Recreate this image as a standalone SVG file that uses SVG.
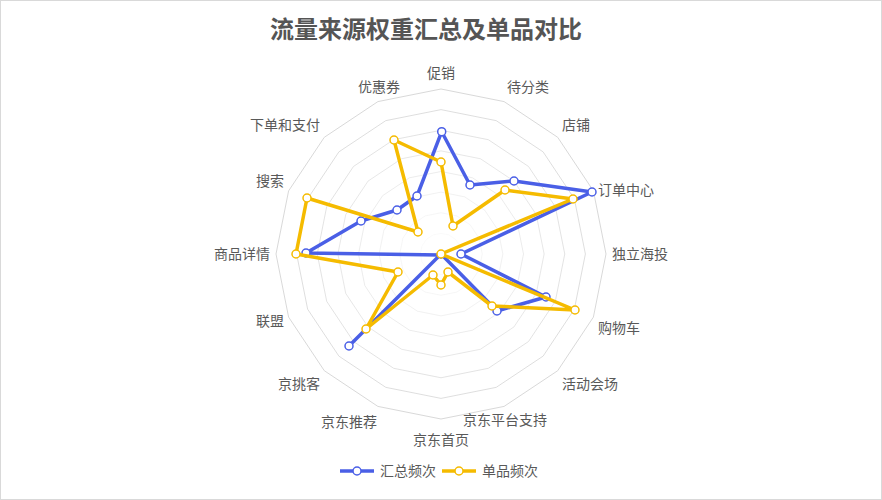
<svg xmlns="http://www.w3.org/2000/svg" width="882" height="500" viewBox="0 0 882 500">
<style>
text{font-family:"Noto Sans CJK SC","Noto Sans",sans-serif;fill:#595959;font-size:14px}
.g{fill:none;stroke:#d9d9d9;stroke-width:1}
.b{fill:none;stroke:#4a5fe6;stroke-width:3.5;stroke-linejoin:round}
.y{fill:none;stroke:#f5bb00;stroke-width:3.5;stroke-linejoin:round}
.bm{fill:#fff;stroke:#4a5fe6;stroke-width:1.5}
.ym{fill:#fff;stroke:#f5bb00;stroke-width:1.5}
</style>
<rect x="0.5" y="0.5" width="881" height="499" fill="#fff" stroke="#d9d9d9"/>
<text x="426" y="38" text-anchor="middle" style="font-size:24px;font-weight:bold;fill:#555">流量来源权重汇总及单品对比</text>
<g id="grid">
<polygon class="g" points="441,89 504.1,101.6 557.7,137.3 593.4,190.9 606,254 593.4,317.1 557.7,370.7 504.1,406.4 441,419 377.9,406.4 324.3,370.7 288.6,317.1 276,254 288.6,190.9 324.3,137.3 377.9,101.6"/>
<polygon class="g" transform="translate(441 254) scale(0.875) translate(-441 -254)" points="441,89 504.1,101.6 557.7,137.3 593.4,190.9 606,254 593.4,317.1 557.7,370.7 504.1,406.4 441,419 377.9,406.4 324.3,370.7 288.6,317.1 276,254 288.6,190.9 324.3,137.3 377.9,101.6"/>
<polygon class="g" transform="translate(441 254) scale(0.75) translate(-441 -254)" points="441,89 504.1,101.6 557.7,137.3 593.4,190.9 606,254 593.4,317.1 557.7,370.7 504.1,406.4 441,419 377.9,406.4 324.3,370.7 288.6,317.1 276,254 288.6,190.9 324.3,137.3 377.9,101.6"/>
<polygon class="g" transform="translate(441 254) scale(0.625) translate(-441 -254)" points="441,89 504.1,101.6 557.7,137.3 593.4,190.9 606,254 593.4,317.1 557.7,370.7 504.1,406.4 441,419 377.9,406.4 324.3,370.7 288.6,317.1 276,254 288.6,190.9 324.3,137.3 377.9,101.6"/>
<polygon class="g" transform="translate(441 254) scale(0.5) translate(-441 -254)" points="441,89 504.1,101.6 557.7,137.3 593.4,190.9 606,254 593.4,317.1 557.7,370.7 504.1,406.4 441,419 377.9,406.4 324.3,370.7 288.6,317.1 276,254 288.6,190.9 324.3,137.3 377.9,101.6"/>
<polygon class="g" transform="translate(441 254) scale(0.375) translate(-441 -254)" points="441,89 504.1,101.6 557.7,137.3 593.4,190.9 606,254 593.4,317.1 557.7,370.7 504.1,406.4 441,419 377.9,406.4 324.3,370.7 288.6,317.1 276,254 288.6,190.9 324.3,137.3 377.9,101.6"/>
<polygon class="g" transform="translate(441 254) scale(0.25) translate(-441 -254)" points="441,89 504.1,101.6 557.7,137.3 593.4,190.9 606,254 593.4,317.1 557.7,370.7 504.1,406.4 441,419 377.9,406.4 324.3,370.7 288.6,317.1 276,254 288.6,190.9 324.3,137.3 377.9,101.6"/>
<polygon class="g" transform="translate(441 254) scale(0.125) translate(-441 -254)" points="441,89 504.1,101.6 557.7,137.3 593.4,190.9 606,254 593.4,317.1 557.7,370.7 504.1,406.4 441,419 377.9,406.4 324.3,370.7 288.6,317.1 276,254 288.6,190.9 324.3,137.3 377.9,101.6"/>
</g>
<g id="labels">
<text x="441" y="78" text-anchor="middle">促销</text>
<text x="507" y="92" text-anchor="start">待分类</text>
<text x="562" y="130" text-anchor="start">店铺</text>
<text x="598" y="195" text-anchor="start">订单中心</text>
<text x="612" y="259" text-anchor="start">独立海投</text>
<text x="598" y="333" text-anchor="start">购物车</text>
<text x="562" y="389" text-anchor="start">活动会场</text>
<text x="463" y="425" text-anchor="start">京东平台支持</text>
<text x="441" y="445" text-anchor="middle">京东首页</text>
<text x="377" y="427" text-anchor="end">京东推荐</text>
<text x="320" y="389" text-anchor="end">京挑客</text>
<text x="284" y="326" text-anchor="end">联盟</text>
<text x="270" y="259" text-anchor="end">商品详情</text>
<text x="284" y="186" text-anchor="end">搜索</text>
<text x="320" y="130" text-anchor="end">下单和支付</text>
<text x="400" y="92" text-anchor="end">优惠券</text>
</g>
<g id="series-blue">
<polygon class="b" points="441.7,131.7 470,185 514,181 592,192 461,254 546,297 497,311 443,256 441,257 439,256 349,346 440,255 306,253 361,221 397,210 417,196"/>
<g>
<circle class="bm" cx="441.7" cy="131.7" r="4"/><circle class="bm" cx="470" cy="185" r="4"/><circle class="bm" cx="514" cy="181" r="4"/><circle class="bm" cx="592" cy="192" r="4"/><circle class="bm" cx="461" cy="254" r="4"/><circle class="bm" cx="546" cy="297" r="4"/><circle class="bm" cx="497" cy="311" r="4"/><circle class="bm" cx="349" cy="346" r="4"/><circle class="bm" cx="306" cy="253" r="4"/><circle class="bm" cx="361" cy="221" r="4"/><circle class="bm" cx="397" cy="210" r="4"/><circle class="bm" cx="417" cy="196" r="4"/>
</g>
</g>
<g id="series-yellow">
<polygon class="y" points="441,162 453,226 505,190 573,199 441,254 575,310 492,306 448,272 441,285 433,275 366,329 398,272 296,254 307,198 418,232 394,140"/>
<g>
<circle class="ym" cx="441" cy="162" r="4"/><circle class="ym" cx="453" cy="226" r="4"/><circle class="ym" cx="505" cy="190" r="4"/><circle class="ym" cx="573" cy="199" r="4"/><circle class="ym" cx="441" cy="254" r="4"/><circle class="ym" cx="575" cy="310" r="4"/><circle class="ym" cx="492" cy="306" r="4"/><circle class="ym" cx="448" cy="272" r="4"/><circle class="ym" cx="441" cy="285" r="4"/><circle class="ym" cx="433" cy="275" r="4"/><circle class="ym" cx="366" cy="329" r="4"/><circle class="ym" cx="398" cy="272" r="4"/><circle class="ym" cx="296" cy="254" r="4"/><circle class="ym" cx="307" cy="198" r="4"/><circle class="ym" cx="418" cy="232" r="4"/><circle class="ym" cx="394" cy="140" r="4"/>
</g>
</g>
<g id="legend">
<line x1="340" y1="471" x2="374" y2="471" stroke="#4a5fe6" stroke-width="3.5"/><circle class="bm" cx="357" cy="471" r="4"/>
<text x="380" y="476">汇总频次</text>
<line x1="442" y1="471" x2="476" y2="471" stroke="#f5bb00" stroke-width="3.5"/><circle class="ym" cx="459" cy="471" r="4"/>
<text x="482" y="476">单品频次</text>
</g>
</svg>
